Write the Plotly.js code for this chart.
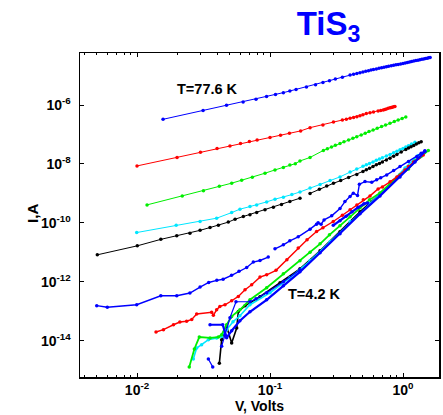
<!DOCTYPE html>
<html>
<head>
<meta charset="utf-8">
<script src="https://cdn.plot.ly/plotly-3.0.1.min.js"></script>
<style>
  html, body { margin: 0; padding: 0; background: #fff; }
  #chart { width: 443px; height: 415px; }
</style>
</head>
<body>
<div id="chart"></div>
<script>
// I-V curves of TiS3, current (A) versus bias (V), log-log.
// Upper family: T = 77.6 K down; lower bundle: T = 4.2 K region.

const vBlueHi = [0.0157,0.0314,0.0471,0.0628,0.0785,0.0942,0.110,0.126,0.141,0.157,0.188,0.22,0.25,0.28,0.31,0.35,0.40,0.425,0.45,0.475,0.50,0.525,0.55,0.575,0.60,0.63,0.66,0.69,0.72,0.75,0.78,0.815,0.85,0.885,0.92,0.96,1.0,1.04,1.08,1.12,1.16,1.205,1.25,1.295,1.34,1.385,1.43,1.475,1.52,1.56,1.60];
const iBlueHi = [3.27e-7,6.46e-7,9.77e-7,1.26e-6,1.58e-6,1.95e-6,2.29e-6,2.63e-6,2.99e-6,3.37e-6,4.12e-6,4.90e-6,5.75e-6,6.64e-6,7.59e-6,8.83e-6,1.05e-5,1.11e-5,1.18e-5,1.25e-5,1.32e-5,1.39e-5,1.46e-5,1.53e-5,1.60e-5,1.68e-5,1.77e-5,1.84e-5,1.92e-5,1.99e-5,2.07e-5,2.15e-5,2.23e-5,2.31e-5,2.39e-5,2.48e-5,2.57e-5,2.67e-5,2.77e-5,2.87e-5,2.98e-5,3.09e-5,3.21e-5,3.32e-5,3.44e-5,3.55e-5,3.66e-5,3.77e-5,3.89e-5,3.99e-5,4.09e-5];

const vRedHi = [0.01,0.02,0.03,0.04,0.05,0.06,0.07,0.08,0.10,0.12,0.14,0.17,0.20,0.25,0.30,0.35,0.375,0.40,0.425,0.45,0.475,0.50,0.53,0.565,0.60,0.65,0.68,0.71,0.73,0.75,0.775,0.80,0.815,0.83,0.85,0.87];
const iRedHi = [8.55e-9,1.66e-8,2.51e-8,3.31e-8,4.07e-8,4.90e-8,5.75e-8,6.46e-8,7.94e-8,9.33e-8,1.10e-7,1.32e-7,1.70e-7,2.10e-7,2.63e-7,3.09e-7,3.31e-7,3.55e-7,3.76e-7,3.98e-7,4.32e-7,4.68e-7,5.13e-7,5.43e-7,5.75e-7,6.21e-7,6.48e-7,6.76e-7,7.05e-7,7.35e-7,7.71e-7,8.09e-7,8.25e-7,8.41e-7,8.66e-7,8.91e-7];

const vGreenHi = [0.0119,0.0219,0.0316,0.0416,0.0515,0.0612,0.0736,0.0917,0.109,0.126,0.141,0.155,0.168,0.20,0.252,0.27,0.29,0.31,0.336,0.36,0.39,0.42,0.449,0.485,0.52,0.555,0.596,0.64,0.69,0.74,0.798,0.86,0.92,0.985,1.05];
const iGreenHi = [4.07e-10,8.22e-10,1.22e-9,1.75e-9,2.22e-9,2.80e-9,3.54e-9,4.84e-9,6.26e-9,7.59e-9,9.25e-9,1.02e-8,1.26e-8,1.66e-8,2.87e-8,3.28e-8,3.75e-8,4.31e-8,4.95e-8,5.68e-8,6.52e-8,7.40e-8,8.41e-8,9.62e-8,1.10e-7,1.25e-7,1.42e-7,1.62e-7,1.85e-7,2.11e-7,2.40e-7,2.73e-7,3.10e-7,3.49e-7,3.92e-7];

const vCyanHi = [0.00995,0.0197,0.0298,0.0397,0.0515,0.0594,0.0707,0.0794,0.0944,0.109,0.126,0.146,0.168,0.20,0.238,0.283,0.336,0.40,0.449,0.50,0.53,0.56,0.595,0.63,0.665,0.70,0.75,0.80,0.85,0.90,0.95,1.0,1.05,1.1,1.16,1.23];
const iCyanHi = [4.69e-11,8.22e-11,1.11e-10,1.44e-10,2.23e-10,2.91e-10,3.57e-10,4.07e-10,5.15e-10,6.35e-10,7.43e-10,9.10e-10,1.12e-9,1.51e-9,2.02e-9,2.72e-9,3.63e-9,5.28e-9,6.76e-9,8.36e-9,9.32e-9,1.04e-8,1.17e-8,1.32e-8,1.46e-8,1.62e-8,1.84e-8,2.10e-8,2.38e-8,2.70e-8,3.02e-8,3.37e-8,3.75e-8,4.18e-8,4.77e-8,5.44e-8];

const vBlackHi = [0.00503,0.01005,0.0151,0.0199,0.025,0.0298,0.0354,0.0409,0.0486,0.0546,0.063,0.0707,0.0794,0.0917,0.106,0.122,0.141,0.168,0.18,0.20,0.235,0.267,0.30,0.34,0.39,0.449,0.50,0.53,0.56,0.595,0.63,0.665,0.70,0.75,0.798,0.85,0.90,0.97,1.05,1.1,1.15,1.205,1.26,1.315,1.37];
const iBlackHi = [8.22e-12,1.66e-11,2.75e-11,3.63e-11,4.48e-11,5.57e-11,6.93e-11,8.22e-11,1.06e-10,1.33e-10,1.64e-10,1.87e-10,2.23e-10,2.76e-10,3.40e-10,4.17e-10,5.27e-10,6.87e-10,null,1.0e-9,1.39e-9,1.79e-9,2.20e-9,2.72e-9,3.46e-9,4.41e-9,5.58e-9,6.32e-9,7.16e-9,8.16e-9,9.31e-9,1.04e-8,1.17e-8,1.35e-8,1.56e-8,1.81e-8,2.10e-8,2.55e-8,3.10e-8,3.44e-8,3.82e-8,4.25e-8,4.72e-8,5.19e-8,5.70e-8];

const vBlueLo = [0.00498,0.00598,0.00995,0.0151,0.0199,0.025,0.0298,0.0346,0.0398,0.0444,0.0514,0.0585,0.0668,0.0749,0.0841,0.097,0.103,0.109,0.126,0.141,0.163,0.20,0.224,0.23,0.242,0.255,0.291,0.336,0.366,0.40,0.423,0.455,0.47,0.518,0.582,0.634,0.68,0.754,0.85,0.95,1.1,1.27,1.37,1.46];
const iBlueLo = [1.55e-13,1.37e-13,1.66e-13,3.35e-13,3.35e-13,4.14e-13,6.61e-13,9.46e-13,1.12e-12,1.22e-12,1.66e-12,2.27e-12,3.05e-12,4.66e-12,5.27e-12,6.87e-12,null,1.32e-11,1.80e-11,2.45e-11,3.35e-11,6.11e-11,9.03e-11,1.0e-10,8.9e-11,1.26e-10,1.73e-10,3.05e-10,5.27e-10,7.80e-10,1.02e-9,8.5e-10,2.05e-9,2.51e-9,2.40e-9,2.88e-9,3.37e-9,4.24e-9,5.93e-9,8.13e-9,1.21e-8,1.77e-8,2.29e-8,2.82e-8];

const vRedLo = [0.0139,0.0158,0.0188,0.021,0.0236,0.0258,0.0281,0.0364,0.0375,0.0397,0.042,0.0459,0.0515,0.0578,0.0649,0.0728,0.0841,0.0944,0.111,0.134,0.163,0.19,0.224,0.25,0.299,0.35,0.40,0.45,0.503,0.565,0.65,0.70,0.80,0.90,1.035,1.1,1.2,1.3,1.42];
const iRedLo = [1.97e-14,2.36e-14,3.48e-14,4.30e-14,4.58e-14,5.24e-14,8.04e-14,9.24e-14,7.31e-14,1.12e-13,1.46e-13,1.66e-13,2.27e-13,3.18e-13,5.36e-13,7.94e-13,1.44e-12,1.73e-12,2.45e-12,5.57e-12,1.39e-11,2.65e-11,5.07e-11,6.81e-11,1.11e-10,1.81e-10,2.76e-10,4.07e-10,6.03e-10,8.22e-10,1.42e-9,1.66e-9,2.46e-9,3.63e-9,6.26e-9,8.22e-9,1.17e-8,1.53e-8,2.02e-8];

const vGreenLo = [0.0247,0.0270,0.0294,0.0354,0.0409,0.0433,0.0472,0.0515,0.0594,0.0707,0.0944,0.126,0.168,0.20,0.238,0.28,0.336,0.40,0.475,0.56,0.671,0.80,0.949,1.1,1.23,1.38,1.55];
const iGreenLo = [1.28e-15,5.23e-15,1.33e-14,1.24e-14,1.33e-14,1.60e-14,3.48e-14,6.67e-14,1.12e-13,2.45e-13,6.26e-13,1.86e-12,5.15e-12,1.0e-11,1.94e-11,3.92e-11,7.94e-11,1.60e-10,3.24e-10,6.03e-10,1.04e-9,2.10e-9,4.24e-9,6.76e-9,1.26e-8,1.87e-8,2.83e-8];

const vCyanLo = [0.0265,0.0281,0.0306,0.0344,0.0397,0.0433,0.0472,0.0527,0.0594,0.0707,0.10,0.141,0.20,0.283,0.40,0.565,0.798,1.035,1.30];
const iCyanLo = [2.40e-15,5.66e-15,7.31e-15,1.08e-14,1.24e-14,1.40e-14,2.36e-14,4.41e-14,7.03e-14,1.66e-13,4.24e-13,1.37e-12,5.15e-12,2.27e-11,1.08e-10,4.41e-10,2.10e-9,7.31e-9,1.94e-8];

const vBlackLo = [0.0416,0.0433,0.0472,0.0515,0.0562,0.0578,0.0649,0.0841,0.119,0.168,0.238,0.336,0.475,0.671,0.949,1.34];
const iBlackLo = [1.71e-15,1.08e-14,3.05e-14,8.36e-15,2.70e-14,9.84e-14,1.53e-13,3.10e-13,9.25e-13,2.76e-12,1.12e-11,4.95e-11,2.36e-10,9.62e-10,4.24e-9,1.73e-8];

const vBlueA = [0.0354,0.0441,0.0472,0.0515,0.0594,0.0707,0.0944,0.126,0.168,0.238,0.336,0.475,0.671,0.949,1.23,1.46];
const iBlueA = [3.48e-14,3.48e-14,1.26e-14,2.18e-14,4.78e-14,9.62e-14,2.45e-13,7.31e-13,2.18e-12,9.62e-12,4.24e-11,2.02e-10,8.22e-10,3.62e-9,1.17e-8,2.65e-8];

const vBlueB = [0.0433,0.0459,0.050,0.0555,0.0707,0.0785,0.0944,0.126,0.168];
const iBlueB = [6.46e-15,1.60e-14,6.03e-14,2.10e-13,2.10e-13,2.65e-13,4.24e-13,1.0e-12,2.55e-12];

const vBlueC = [0.0344,0.0371];
const iBlueC = [2.40e-15,1.29e-15];

const vBlueD = [0.299,0.336,0.373,0.414,0.459,0.509,0.541];
const iBlueD = [8.22e-11,1.17e-10,1.66e-10,2.36e-10,3.35e-10,4.41e-10,4.76e-10];

const xTickVals = [0.01, 0.1, 1];
const xTickText = ['10<sup>-2</sup>', '10<sup>-1</sup>', '10<sup>0</sup>'];
const yTickVals = [1e-14, 1e-12, 1e-10, 1e-8, 1e-6];
const yTickText = ['10<sup>-14</sup>', '10<sup>-12</sup>', '10<sup>-10</sup>', '10<sup>-8</sup>', '10<sup>-6</sup>'];

const BLUE = '#0000ff', RED = '#ff0000', GREEN = '#00ee00', CYAN = '#00e6ff', BLACK = '#000000';
const FONT = 'Liberation Sans, Arial, sans-serif';

function curve(x, y, color, width, msize) {
  return {
    x: x, y: y, type: 'scatter', mode: 'lines+markers',
    line: { color: color, width: width || 1 },
    marker: { color: color, size: msize || 3.5 },
    connectgaps: false, showlegend: false, hoverinfo: 'x+y'
  };
}

const traces = [
  curve(vBlueHi, iBlueHi, BLUE),
  curve(vRedHi, iRedHi, RED),
  curve(vGreenHi, iGreenHi, GREEN),
  curve(vCyanHi, iCyanHi, CYAN),
  curve(vBlackHi, iBlackHi, BLACK),
  curve(vBlackLo, iBlackLo, BLACK, 1.6),
  curve(vCyanLo, iCyanLo, CYAN, 1.6),
  curve(vGreenLo, iGreenLo, GREEN, 1.8),
  curve(vRedLo, iRedLo, RED, 1.4),
  curve(vBlueB, iBlueB, BLUE, 1.2),
  curve(vBlueC, iBlueC, BLUE, 1.2),
  curve(vBlueA, iBlueA, BLUE, 2.2),
  curve(vBlueD, iBlueD, BLUE, 2.4),
  curve(vBlueLo, iBlueLo, BLUE, 1.4)
];

// minor decade ticks (2..9) on the voltage axis
const xMinor = [];
for (let d = -3; d <= 0; d++) {
  for (let k = 2; k <= 9; k++) xMinor.push(k * Math.pow(10, d));
}

const axisFont = { family: FONT, size: 14, color: '#000', weight: 'bold' };

const layout = {
  width: 443, height: 415,
  margin: { l: 80, r: 4, t: 53, b: 38 },
  paper_bgcolor: '#fff', plot_bgcolor: '#fff',
  showlegend: false,
  title: {
    text: '<b>TiS<sub>3</sub></b>',
    font: { family: FONT, size: 33, color: BLUE },
    xref: 'container', yref: 'container',
    x: 0.670, xanchor: 'left', y: 0.972, yanchor: 'top'
  },
  xaxis: {
    type: 'log', range: [-2.4286, 0.2707],
    tickmode: 'array', tickvals: xTickVals, ticktext: xTickText,
    ticks: 'inside', ticklen: 4, tickwidth: 1, tickcolor: '#000',
    minor: { tickmode: 'array', tickvals: xMinor, ticks: 'inside', ticklen: 2, tickwidth: 1, tickcolor: '#000', showgrid: false },
    showline: true, linecolor: '#000', linewidth: 1.5, mirror: 'ticks',
    showgrid: false, zeroline: false,
    tickfont: axisFont,
    title: { text: 'V, Volts', font: axisFont, standoff: 4 },
    automargin: false
  },
  yaxis: {
    type: 'log', range: [-15.232, -4.235],
    tickmode: 'array', tickvals: yTickVals, ticktext: yTickText,
    ticks: 'inside', ticklen: 4, tickwidth: 1, tickcolor: '#000',
    showline: true, linecolor: '#000', linewidth: 1.5, mirror: 'ticks',
    showgrid: false, zeroline: false,
    tickfont: axisFont, ticklabelstandoff: 5,
    automargin: false
  },
  annotations: [
    { text: '<b>I,A</b>', xref: 'paper', yref: 'paper', x: -0.134, y: 0.506,
      xanchor: 'center', yanchor: 'middle', textangle: -90, showarrow: false,
      font: { family: FONT, size: 15, color: '#000' } },
    { text: '<b>T=77.6 K</b>', xref: 'paper', yref: 'paper', x: 0.355, y: 0.889,
      xanchor: 'center', yanchor: 'middle', showarrow: false,
      font: { family: FONT, size: 14.5, color: '#000' } },
    { text: '<b>T=4.2 K</b>', xref: 'paper', yref: 'paper', x: 0.652, y: 0.256,
      xanchor: 'center', yanchor: 'middle', showarrow: false,
      font: { family: FONT, size: 14.5, color: '#000' } }
  ]
};

Plotly.newPlot('chart', traces, layout, { displayModeBar: false, staticPlot: true });
</script>
</body>
</html>
